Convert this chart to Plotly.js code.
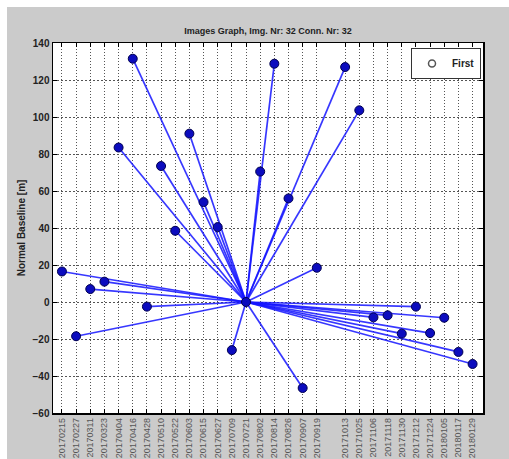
<!DOCTYPE html>
<html>
<head>
<meta charset="utf-8">
<script src="https://cdn.plot.ly/plotly-3.0.1.min.js"></script>
<style>html,body{margin:0;padding:0;background:#fff;}#chart{width:509px;height:459px;}</style>
</head>
<body>
<div id="chart"></div>
<script>
// Acquisition dates (tick labels / x categories)
const dates = ["20170215","20170227","20170311","20170323","20170404","20170416","20170428","20170510","20170522","20170603","20170615","20170627","20170709","20170721","20170802","20170814","20170826","20170907","20170919","20171013","20171025","20171106","20171118","20171130","20171212","20171224","20180105","20180117","20180129"];
// Normal baseline per image [m]
const baselines = [16.5,-18.5,7,11,83.5,131.5,-2.5,73.5,38.5,91,54,40.5,-26,0,70.5,128.8,56,-46.5,18.5,127,103.6,-8.3,-7.2,-17.1,-2.5,-16.8,-8.5,-27,-33.5];
// Master (reference) image of the star graph
const masterDate = "20170721";
const masterBaseline = 0;

const toIso = d => d.slice(0,4) + "-" + d.slice(4,6) + "-" + d.slice(6,8);
const xs = dates.map(toIso);
const mx = toIso(masterDate);

const lx = [], ly = [];
dates.forEach((d, i) => {
  if (d === masterDate) return;
  lx.push(mx, xs[i], null);
  ly.push(masterBaseline, baselines[i], null);
});

const traces = [
  {x: lx, y: ly, mode: "lines", type: "scatter", showlegend: false, hoverinfo: "skip",
   line: {color: "rgba(20,20,255,0.85)", width: 1.7}},
  {x: xs, y: baselines, mode: "markers", type: "scatter", showlegend: false,
   marker: {color: "#0c0cbe", size: 9, line: {color: "#000050", width: 1}}},
  {x: [null], y: [null], mode: "markers", type: "scatter", name: "First",
   marker: {symbol: "circle-open", color: "#555", size: 7, line: {width: 1.5}}}
];

const plotL = 53, plotR = 483, plotT = 43, plotB = 413, W = 509, H = 459;
const pw = plotR - plotL, ph = plotB - plotT;
const px = v => (v - plotL) / pw;
const py = v => (plotB - v) / ph;

const layout = {
  width: W, height: H,
  margin: {l: plotL, r: W - plotR, t: plotT, b: H - plotB, pad: 0},
  paper_bgcolor: "#cbcbcb",
  plot_bgcolor: "#ffffff",
  font: {family: "Liberation Sans, Arial, sans-serif", size: 9, color: "#111"},
  title: {text: "Images Graph, Img. Nr: 32 Conn. Nr: 32", x: 0.5, xref: "paper", xanchor: "center",
          y: 1 - 31/H, yanchor: "middle",
          font: {family: "Liberation Sans, Arial, sans-serif", size: 9, weight: "bold", color: "#222"}},
  xaxis: {
    type: "date",
    range: ["2017-02-07 10:00", "2018-02-06 20:00"],
    tickmode: "array", tickvals: xs, ticktext: dates, tickangle: -90,
    tickfont: {size: 9, color: "#555"},
    ticks: "inside", ticklen: 4, tickcolor: "#000", tickwidth: 1,
    showline: true, linecolor: "#000", linewidth: 1.5, mirror: "ticks",
    showgrid: true, gridcolor: "#555", gridwidth: 1, griddash: "1px,2px",
    zeroline: false, automargin: false, fixedrange: true
  },
  yaxis: {
    range: [-60, 140], tickmode: "linear", tick0: -60, dtick: 20,
    tickfont: {size: 10, weight: "bold", color: "#222"},
    ticks: "inside", ticklen: 4, tickcolor: "#000", tickwidth: 1,
    showline: true, linecolor: "#000", linewidth: 1.5, mirror: "ticks",
    showgrid: true, gridcolor: "#555", gridwidth: 1, griddash: "2px,2px",
    zeroline: false, automargin: false, fixedrange: true,
    title: {text: "Normal Baseline [m]", standoff: 5,
            font: {size: 10, weight: "bold", color: "#222"}}
  },
  legend: {
    x: px(481), xanchor: "right", y: py(48), yanchor: "top",
    bgcolor: "#ffffff", bordercolor: "#333", borderwidth: 1,
    font: {size: 10, weight: "bold", color: "#222"},
    itemwidth: 30
  },
  shapes: [
    {type: "rect", xref: "paper", yref: "paper", x0: px(-5), x1: px(W + 5), y0: py(7), y1: py(-5),
     fillcolor: "#ffffff", line: {width: 0}, layer: "below"},
    {type: "rect", xref: "paper", yref: "paper", x0: px(-5), x1: px(7), y0: py(H + 5), y1: py(-5),
     fillcolor: "#ffffff", line: {width: 0}, layer: "below"}
  ],
  showlegend: true
};

Plotly.newPlot("chart", traces, layout, {displayModeBar: false, staticPlot: true});
</script>
</body>
</html>
